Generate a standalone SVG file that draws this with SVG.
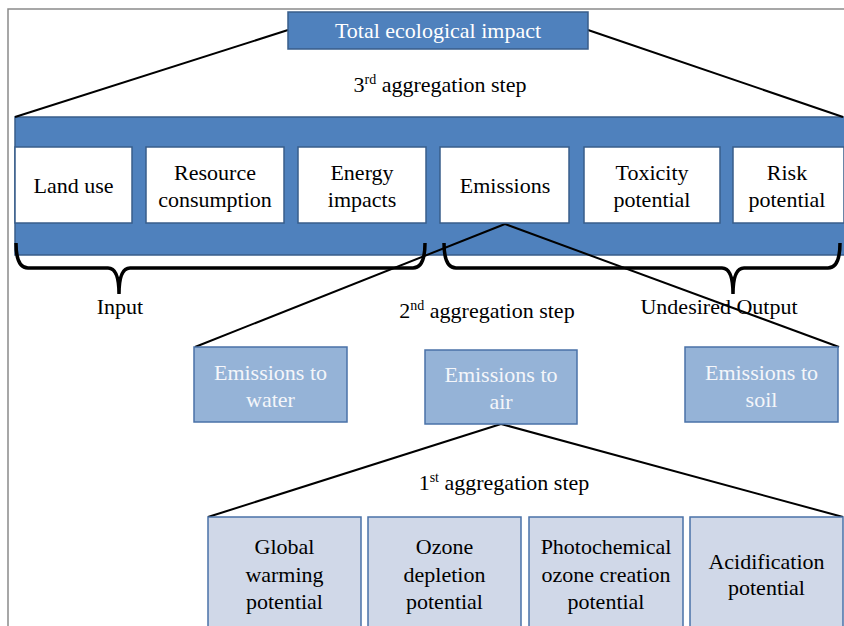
<svg xmlns="http://www.w3.org/2000/svg" width="844" height="626" viewBox="0 0 844 626" font-family="'Liberation Serif', 'DejaVu Serif', serif">
<style>
text{font-family:'Liberation Serif','Times New Roman','DejaVu Serif',serif;font-size:22px;text-anchor:middle;fill:#000}
.w{fill:#fff}
.lw{fill:#f4f6fa}
.dark{fill:#4f81bd;stroke:#385d8a;stroke-width:1.5}
.white{fill:#fff;stroke:#385d8a;stroke-width:1.5}
.mid{fill:#95b3d7;stroke:#4a72a8;stroke-width:1.5}
.light{fill:#d0d8e8;stroke:#4a72a8;stroke-width:1.5}
.ln{stroke:#000;stroke-width:2;fill:none}
.br{stroke:#000;stroke-width:3.5;fill:none}
.sup{font-size:14px}
</style>
<rect width="844" height="626" fill="#fff"/>
<path d="M8,626 L8,9 L844,9" stroke="#8a8a8a" stroke-width="1.5" fill="none"/>

<g id="band"><rect class="dark" x="15" y="117" width="830" height="138"/></g>

<g id="connectors">
<line class="ln" x1="288" y1="30" x2="15" y2="117"/>
<line class="ln" x1="588" y1="30" x2="843" y2="117"/>
<path class="br" d="M16,243 Q16,268 28,268 L108,268 Q119,268 119,294 Q119,268 130,268 L413,268 Q425,268 425,243"/>
<path class="br" d="M444,243 Q444,268 456,268 L722,268 Q733,268 733,294 Q733,268 744,268 L828,268 Q840,268 840,243"/>
<line class="ln" x1="505" y1="224" x2="195" y2="347"/>
<line class="ln" x1="505" y1="224" x2="839" y2="347"/>
<line class="ln" x1="501" y1="424" x2="208" y2="517"/>
<line class="ln" x1="501" y1="424" x2="843" y2="517"/>
</g>

<g id="total"><rect class="dark" x="288" y="12" width="300" height="37"/><text class="w" x="438" y="38">Total ecological impact</text></g>
<text x="440" y="92">3<tspan class="sup" dy="-8">rd</tspan><tspan dy="8"> aggregation step</tspan></text>

<g id="landuse"><rect class="white" x="15" y="147" width="117" height="76"/><text x="73.5" y="193">Land use</text></g>
<g id="resource"><rect class="white" x="146" y="147" width="138" height="76"/><text x="215" y="180">Resource</text><text x="215" y="207">consumption</text></g>
<g id="energy"><rect class="white" x="298" y="147" width="128" height="76"/><text x="362" y="180">Energy</text><text x="362" y="207">impacts</text></g>
<g id="emissions"><rect class="white" x="440" y="147" width="129" height="76"/><text x="505" y="193">Emissions</text></g>
<g id="toxicity"><rect class="white" x="584" y="147" width="136" height="76"/><text x="652" y="180">Toxicity</text><text x="652" y="207">potential</text></g>
<g id="risk"><rect class="white" x="733" y="147" width="111" height="76"/><text x="787" y="180">Risk</text><text x="787" y="207">potential</text></g>

<text x="120" y="314">Input</text>
<text x="487" y="318">2<tspan class="sup" dy="-8">nd</tspan><tspan dy="8"> aggregation step</tspan></text>
<text x="719" y="314">Undesired Output</text>

<g id="water"><rect class="mid" x="194" y="347" width="153" height="75"/><text class="lw" x="270.5" y="380">Emissions to</text><text class="lw" x="270.5" y="407">water</text></g>
<g id="air"><rect class="mid" x="425" y="350" width="152" height="74"/><text class="lw" x="501" y="382">Emissions to</text><text class="lw" x="501" y="409">air</text></g>
<g id="soil"><rect class="mid" x="685" y="347" width="153" height="75"/><text class="lw" x="761.5" y="380">Emissions to</text><text class="lw" x="761.5" y="407">soil</text></g>

<text x="504" y="490">1<tspan class="sup" dy="-8">st</tspan><tspan dy="8"> aggregation step</tspan></text>

<g id="gwp"><rect class="light" x="208" y="517" width="153" height="115"/><text x="284.5" y="554">Global</text><text x="284.5" y="582">warming</text><text x="284.5" y="609">potential</text></g>
<g id="odp"><rect class="light" x="368" y="517" width="153" height="115"/><text x="444.5" y="554">Ozone</text><text x="444.5" y="582">depletion</text><text x="444.5" y="609">potential</text></g>
<g id="pocp"><rect class="light" x="529" y="517" width="154" height="115"/><text x="606" y="554">Photochemical</text><text x="606" y="582">ozone creation</text><text x="606" y="609">potential</text></g>
<g id="ap"><rect class="light" x="690" y="517" width="153" height="115"/><text x="766.5" y="569">Acidification</text><text x="766.5" y="595">potential</text></g>
</svg>
